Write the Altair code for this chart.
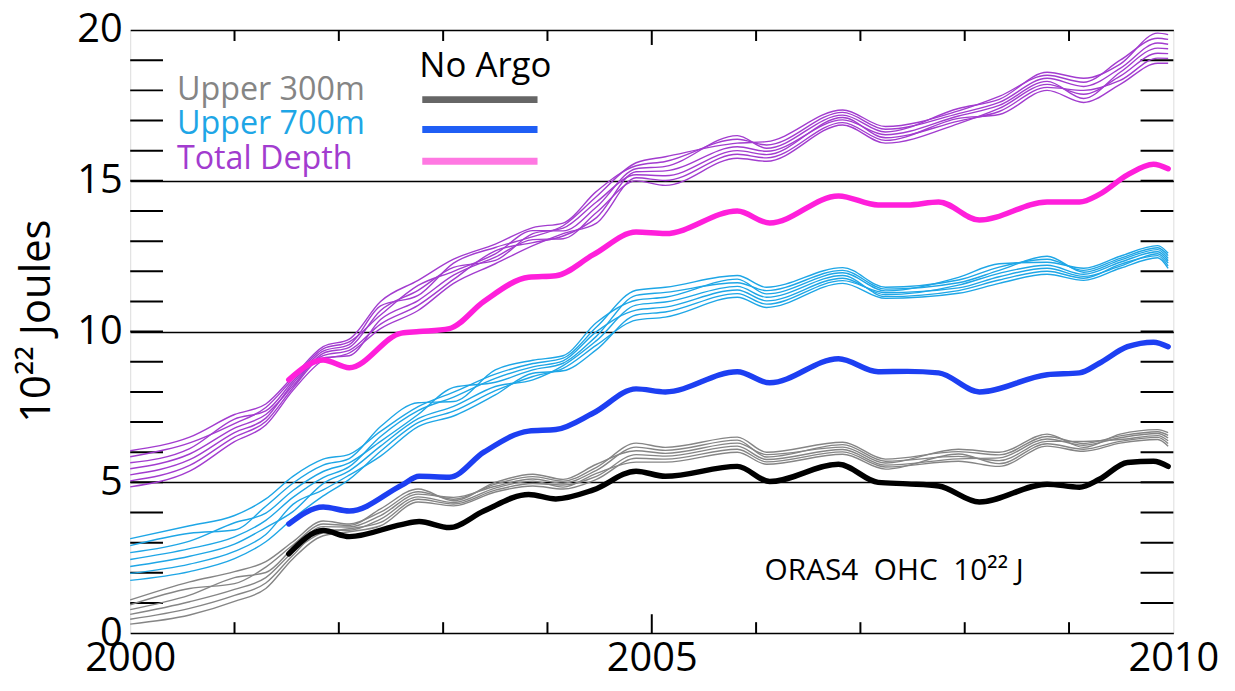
import altair as alt
import pandas as pd

# ---------------- data ----------------
GRID_YEARS = [2000.0, 2000.57, 2001.0, 2001.3, 2001.56, 2001.85, 2002.1, 2002.4, 2002.76,
              2003.1, 2003.5, 2003.86, 2004.15, 2004.47, 2004.85, 2005.13, 2005.82, 2006.1,
              2006.83, 2007.24, 2007.94, 2008.33, 2008.79, 2009.14, 2009.49, 2009.85, 2009.95]

# Upper 300m ensemble (grey)
G1 = [1.1, 1.7, 2.04, 2.37, 3.03, 3.72, 3.62, 4.01, 4.69, 4.44, 4.94, 5.19, 5.04, 5.5,
      6.3, 6.16, 6.5, 6.0, 6.33, 5.77, 6.02, 5.91, 6.52, 6.29, 6.54, 6.68, 6.56]
G2 = [0.94, 1.48, 1.64, 2.19, 2.92, 3.62, 3.57, 4.12, 4.78, 4.39, 5.0, 5.27, 5.1, 5.6,
      6.05, 5.96, 6.3, 5.92, 6.17, 5.64, 6.1, 6.0, 6.6, 6.16, 6.6, 6.75, 6.65]
G3 = [0.78, 1.26, 1.84, 2.01, 2.81, 3.53, 3.52, 3.9, 4.61, 4.5, 4.87, 5.11, 4.97, 5.4,
      6.17, 6.06, 6.4, 5.84, 6.25, 5.7, 5.86, 5.72, 6.36, 6.36, 6.42, 6.55, 6.38]
G4 = [0.62, 1.04, 1.45, 1.84, 2.69, 3.33, 3.46, 3.67, 4.44, 4.28, 4.74, 4.96, 4.91, 5.2,
      5.92, 5.87, 6.2, 5.76, 6.09, 5.57, 5.78, 5.81, 6.44, 6.23, 6.48, 6.62, 6.47]
G5 = [0.46, 0.82, 1.25, 1.66, 2.58, 3.43, 3.41, 3.78, 4.52, 4.33, 4.81, 5.04, 4.84, 5.3,
      5.67, 5.67, 6.0, 5.6, 5.93, 5.44, 5.94, 5.62, 6.28, 6.1, 6.36, 6.49, 6.29]
G6 = [0.3, 0.6, 1.05, 1.48, 2.47, 3.23, 3.36, 3.56, 4.35, 4.22, 4.68, 4.88, 4.78, 5.1,
      5.8, 5.77, 6.1, 5.68, 6.01, 5.51, 5.7, 5.53, 6.2, 6.03, 6.3, 6.42, 6.2]

# Upper 700m ensemble (light blue)
B1 = [3.13, 3.56, 3.9, 4.45, 5.2, 5.77, 5.93, 6.69, 7.51, 7.99, 8.59, 8.94, 9.12, 10.15,
      11.37, 11.47, 11.86, 11.47, 12.12, 11.47, 11.71, 12.14, 12.4, 12.03, 12.43, 12.78, 12.52]
B2 = [2.9, 3.31, 3.42, 4.21, 4.97, 5.57, 5.79, 6.85, 7.64, 7.68, 8.73, 9.05, 9.2, 10.3,
      11.04, 11.14, 11.74, 11.25, 11.95, 11.35, 11.8, 12.25, 12.3, 12.1, 12.5, 12.85, 12.6]
B3 = [2.67, 3.05, 3.66, 3.98, 4.73, 5.36, 5.65, 6.36, 7.25, 8.15, 8.32, 8.73, 8.95, 9.85,
      11.2, 11.3, 11.62, 11.36, 12.03, 11.41, 11.62, 12.03, 12.5, 11.97, 12.37, 12.72, 12.43]
B4 = [2.44, 2.8, 3.19, 3.74, 4.5, 5.16, 5.52, 6.52, 7.38, 7.83, 8.45, 8.83, 9.03, 10.0,
      10.71, 10.81, 11.38, 11.02, 11.77, 11.22, 11.54, 11.93, 12.2, 11.9, 12.3, 12.65, 12.35]
B5 = [2.21, 2.55, 2.95, 3.5, 4.03, 4.96, 5.38, 6.2, 7.11, 7.52, 8.18, 8.4, 8.87, 9.7,
      10.88, 10.98, 11.5, 11.14, 11.86, 11.16, 11.36, 11.71, 12.0, 11.77, 12.23, 12.52, 12.18]
B6 = [1.98, 2.29, 2.71, 3.27, 4.27, 4.75, 5.24, 5.87, 6.85, 7.2, 7.9, 8.62, 8.7, 9.4,
      10.55, 10.65, 11.26, 10.91, 11.69, 11.29, 11.45, 11.82, 12.1, 11.83, 12.17, 12.58, 12.27]
B7 = [1.75, 2.04, 2.47, 3.03, 3.8, 4.55, 5.1, 6.03, 6.98, 7.36, 8.04, 8.51, 8.78, 9.55,
      10.38, 10.48, 11.14, 10.8, 11.6, 11.1, 11.27, 11.6, 11.9, 11.7, 12.1, 12.45, 12.1]

# Total depth ensemble (purple)
P1 = [6.05, 6.5, 7.25, 7.6, 8.5, 9.5, 9.75, 11.0, 11.7, 12.4, 12.9, 13.45, 13.6, 14.65,
      15.5, 15.64, 16.38, 16.19, 17.27, 16.71, 17.23, 17.6, 18.4, 18.13, 18.73, 19.57, 19.53]
P2 = [5.85, 6.31, 6.95, 7.48, 8.43, 9.43, 9.66, 10.55, 11.53, 12.0, 12.58, 13.35, 13.34, 14.13,
      15.4, 15.48, 16.5, 16.08, 17.18, 16.62, 17.4, 17.7, 18.6, 18.4, 18.87, 19.9, 19.85]
P3 = [5.65, 6.12, 7.1, 7.37, 8.35, 9.35, 9.57, 10.85, 11.2, 12.27, 12.79, 13.15, 13.51, 14.48,
      15.6, 15.8, 16.25, 16.3, 17.35, 16.8, 17.32, 17.8, 18.5, 18.27, 19.0, 19.73, 19.69]
P4 = [5.45, 5.94, 6.8, 7.25, 8.2, 9.28, 9.48, 10.7, 11.37, 12.13, 12.36, 13.25, 13.43, 14.3,
      15.2, 15.17, 16.0, 15.87, 17.1, 16.43, 16.98, 17.3, 18.1, 18.0, 18.33, 19.07, 19.06]
P5 = [5.25, 5.75, 6.65, 7.13, 8.28, 9.2, 9.38, 10.25, 10.87, 11.73, 12.68, 12.95, 13.17, 13.78,
      15.3, 15.33, 16.13, 15.98, 17.02, 16.53, 17.15, 17.5, 18.3, 17.73, 18.6, 19.4, 19.38]
P6 = [5.05, 5.56, 6.5, 7.02, 8.13, 9.13, 9.2, 10.4, 11.03, 11.87, 12.47, 13.05, 13.08, 13.95,
      15.0, 14.85, 15.75, 15.65, 16.85, 16.25, 16.9, 17.4, 18.2, 17.87, 18.47, 19.23, 19.22]
P7 = [4.85, 5.37, 6.35, 6.9, 8.05, 9.05, 9.29, 10.1, 10.7, 11.6, 12.25, 12.85, 13.25, 13.6,
      15.1, 15.01, 15.88, 15.76, 16.93, 16.34, 17.07, 17.2, 18.0, 17.6, 18.2, 18.9, 18.9]

# "No Argo" runs (thick lines)
NOARGO_YEARS = [2001.52, 2001.85, 2002.1, 2002.6, 2002.77, 2003.06, 2003.39, 2003.82, 2004.08,
                2004.44, 2004.85, 2005.13, 2005.82, 2006.13, 2006.79, 2007.17, 2007.45, 2007.75,
                2008.14, 2008.79, 2009.1, 2009.29, 2009.56, 2009.81, 2009.95]
NOARGO_TOTAL = [8.4, 9.06, 8.8, 9.95, 10.0, 10.1, 11.0, 11.8, 11.85, 12.55, 13.3, 13.25, 14.0,
                13.6, 14.5, 14.2, 14.2, 14.3, 13.7, 14.3, 14.3, 14.55, 15.2, 15.55, 15.4]
NOARGO_700 = [3.62, 4.18, 4.05, 4.9, 5.2, 5.17, 6.0, 6.7, 6.75, 7.3, 8.1, 8.0, 8.67, 8.3, 9.1,
              8.67, 8.68, 8.63, 8.0, 8.57, 8.63, 8.95, 9.5, 9.65, 9.5]
NOARGO_300 = [2.63, 3.4, 3.2, 3.6, 3.7, 3.5, 4.05, 4.6, 4.45, 4.75, 5.37, 5.2, 5.53, 5.03, 5.6,
              5.0, 4.95, 4.88, 4.35, 4.94, 4.84, 5.1, 5.66, 5.7, 5.53]

X_LABELS = [2000, 2005, 2010]
Y_LABELS = [0, 5, 10, 15, 20]
Y_MINOR = list(range(1, 20))
X_MINOR = [2001, 2002, 2003, 2004, 2006, 2007, 2008, 2009]
X_MID = [2005]

LEGEND_ENS = ["Upper 300m", "Upper 700m", "Total Depth"]
LEGEND_TITLE = "No Argo"
NB = "\u00a0"
NOTE = "ORAS4" + NB + NB + "OHC" + NB + NB + "10²²" + NB + "J"
Y_TITLE = "10²² Joules"

# ---------------- styles ----------------
C_GREY = "#858585"
C_LBLUE = "#1ea6e6"
C_PURPLE = "#a23ccf"
C_BLACK = "#000000"
C_BLUE = "#1d3ff2"
C_PINK = "#ff1fdb"
FONT = "Open Sans"
W, H = 1050, 607


def ens_frame(members):
    rows = []
    for k, m in enumerate(members):
        for yr, v in zip(GRID_YEARS, m):
            rows.append({"year": yr, "value": v, "member": k})
    return pd.DataFrame(rows)


df_grey = ens_frame([G1, G2, G3, G4, G5, G6])
df_lblue = ens_frame([B1, B2, B3, B4, B5, B6, B7])
df_purple = ens_frame([P1, P2, P3, P4, P5, P6, P7])

xscale = alt.Scale(domain=[2000, 2010], nice=False, zero=False)
yscale = alt.Scale(domain=[0, 20], nice=False, zero=False)
xaxis = alt.Axis(values=X_LABELS, format="d", title=None, ticks=False, domain=False,
                 grid=False, labelFont=FONT, labelFontSize=40, labelColor="black",
                 labelPadding=6, labelFlush=False)
yaxis = alt.Axis(values=Y_LABELS, title=None, ticks=False, domain=False, grid=True,
                 gridColor="black", gridWidth=1.5, gridOpacity=1, labelFont=FONT,
                 labelFontSize=40, labelColor="black", labelPadding=8, labelFlush=False)

X = alt.X("year:Q", scale=xscale, axis=xaxis)
Y = alt.Y("value:Q", scale=yscale, axis=yaxis)

layers = []

# minor y ticks (inward, left and right)
ydf = pd.DataFrame({"value": Y_MINOR})
layers.append(alt.Chart(ydf).mark_rule(color="black", strokeWidth=2).encode(
    y=Y, x=alt.value(0), x2=alt.value(33)))
layers.append(alt.Chart(ydf).mark_rule(color="black", strokeWidth=2).encode(
    y=Y, x=alt.value(W - 33), x2=alt.value(W)))

# x ticks top and bottom
xdf = pd.DataFrame({"year": X_MINOR})
xmid = pd.DataFrame({"year": X_MID})
layers.append(alt.Chart(xdf).mark_rule(color="black", strokeWidth=2).encode(
    x=X, y=alt.value(H - 11), y2=alt.value(H)))
layers.append(alt.Chart(xdf).mark_rule(color="black", strokeWidth=2).encode(
    x=X, y=alt.value(0), y2=alt.value(11)))
layers.append(alt.Chart(xmid).mark_rule(color="black", strokeWidth=2).encode(
    x=X, y=alt.value(H - 19), y2=alt.value(H)))
layers.append(alt.Chart(xmid).mark_rule(color="black", strokeWidth=2).encode(
    x=X, y=alt.value(0), y2=alt.value(15)))

# ensembles
for df, col in [(df_grey, C_GREY), (df_lblue, C_LBLUE), (df_purple, C_PURPLE)]:
    layers.append(alt.Chart(df).mark_line(color=col, strokeWidth=1.4,
                                          interpolate="monotone").encode(
        x=X, y=Y, detail="member:N"))

# No Argo thick lines
for vals, col in [(NOARGO_300, C_BLACK), (NOARGO_700, C_BLUE), (NOARGO_TOTAL, C_PINK)]:
    d = pd.DataFrame({"year": NOARGO_YEARS, "value": vals})
    layers.append(alt.Chart(d).mark_line(color=col, strokeWidth=5.5,
                                         interpolate="monotone",
                                         strokeCap="round").encode(x=X, y=Y))

# legend texts
one = pd.DataFrame({"a": [0]})
for txt, col, yb in zip(LEGEND_ENS, [C_GREY, C_LBLUE, C_PURPLE], [70, 105, 140]):
    layers.append(alt.Chart(one).mark_text(text=txt, color=col, font=FONT, fontSize=32.5,
                                           align="left", baseline="alphabetic").encode(
        x=alt.value(47), y=alt.value(yb)))
layers.append(alt.Chart(one).mark_text(text=LEGEND_TITLE, color="black", font=FONT,
                                       fontSize=35, align="left",
                                       baseline="alphabetic").encode(
    x=alt.value(291), y=alt.value(47)))
for col, yy in zip(["#666666", "#1f5ef5", "#ff78e2"], [70, 100, 132]):
    layers.append(alt.Chart(one).mark_rule(color=col, strokeWidth=7).encode(
        x=alt.value(294), x2=alt.value(410), y=alt.value(yy)))

# annotation
layers.append(alt.Chart(one).mark_text(text=NOTE, color="black", font=FONT, fontSize=30,
                                       align="center", baseline="middle").encode(
    x=alt.value(769), y=alt.value(545)))

# y title
layers.append(alt.Chart(one).mark_text(text=Y_TITLE, color="black", font=FONT, fontSize=42,
                                       align="center", baseline="middle",
                                       angle=270).encode(
    x=alt.value(-94), y=alt.value(293)))

chart = alt.layer(*layers).properties(
    width=W, height=H,
    autosize=alt.AutoSizeParams(type="none"),
    padding={"left": 123, "top": 20, "right": 54, "bottom": 48},
).configure_view(stroke="black", strokeWidth=2).configure(background="white")

chart.save("out.html", embed_options={"renderer": "svg", "actions": False})
